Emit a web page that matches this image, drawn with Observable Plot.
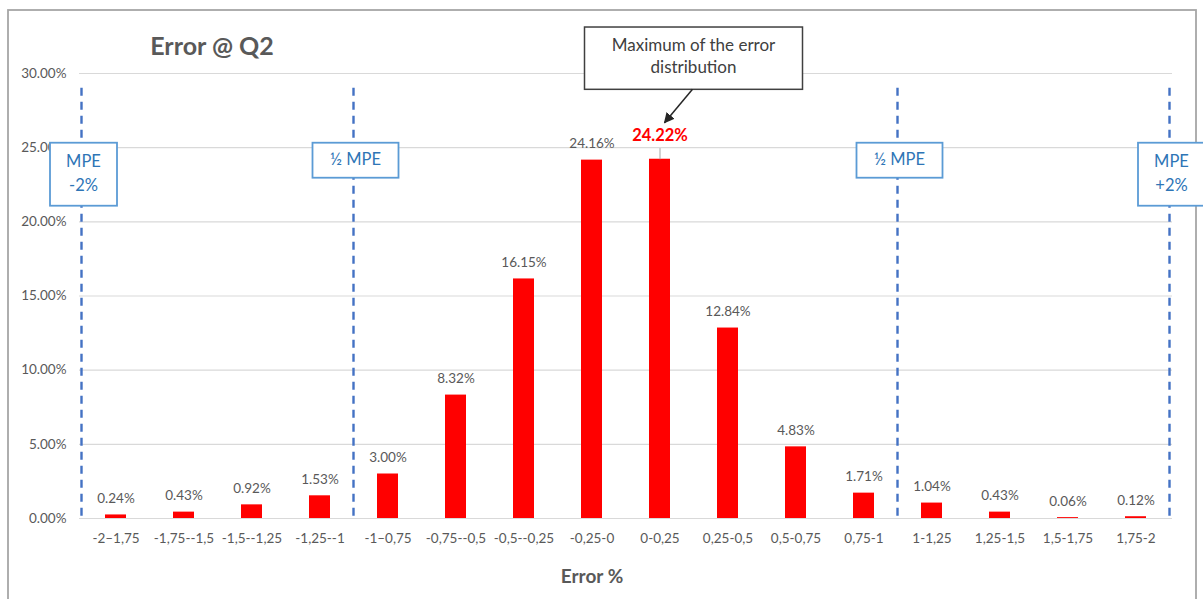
<!DOCTYPE html>
<html>
<head>
<meta charset="utf-8">
<script src="https://cdn.jsdelivr.net/npm/d3@7"></script>
<script src="https://cdn.jsdelivr.net/npm/@observablehq/plot@0.6"></script>
<style>
  html, body { margin: 0; padding: 0; background: #fff; }
  svg { display: block; }
</style>
</head>
<body>
<div id="chart"></div>
<script>
// ---- data ----
const categories = [
  "-2–1,75", "-1,75--1,5", "-1,5--1,25", "-1,25--1",
  "-1–0,75", "-0,75--0,5", "-0,5--0,25", "-0,25-0",
  "0-0,25", "0,25-0,5", "0,5-0,75", "0,75-1",
  "1-1,25", "1,25-1,5", "1,5-1,75", "1,75-2"
];
const values = [0.24, 0.43, 0.92, 1.53, 3.00, 8.32, 16.15, 24.16, 24.22, 12.84, 4.83, 1.71, 1.04, 0.43, 0.06, 0.12];
const yTicks = [0, 5, 10, 15, 20, 25, 30];
const binStart = -2;      // error % at the left edge of the first bin
const binWidth = 0.25;    // error % per bin
const mpeLimits = [-2, -1, 1, 2];
const mpeLabels = [["MPE", "-2%"], ["½ MPE"], ["½ MPE"], ["MPE", "+2%"]];
const peakCategory = "0-0,25";
const titleText = "Error @ Q2";
const xLabel = "Error %";
const calloutText = ["Maximum of the error", "distribution"];

const data = categories.map((c, i) => ({cat: c, value: values[i]}));
const peak = data.find(d => d.cat === peakCategory);
const fmt = v => v.toFixed(2) + "%";

const FONT = "Lato, 'Open Sans', sans-serif";
const GREY = "#595959";
const BLUE_LINE = "#4472C4";
const BLUE_BOX = "#5B9BD5";
const BLUE_TEXT = "#2E75B6";

const plot = Plot.plot({
  width: 1203,
  height: 599,
  marginLeft: 79,
  marginRight: 31,
  marginTop: 73,
  marginBottom: 81,
  style: {fontFamily: FONT, fontSize: "13.5px", color: GREY, background: "#fff"},
  x: {domain: categories, paddingInner: 0.685, paddingOuter: 0.3425, label: null, tickSize: 0, tickPadding: 15},
  y: {domain: [0, 30], ticks: yTicks, tickFormat: fmt, label: null, tickSize: 0, tickPadding: 13},
  marks: [
    Plot.ruleY(yTicks, {stroke: "#d9d9d9", strokeWidth: 1.2}),
    Plot.barY(data, {x: "cat", y: "value", fill: "#ff0000"}),
    Plot.text(data.filter(d => d.cat !== peakCategory), {
      x: "cat", y: "value", text: d => fmt(d.value), dy: -16, fill: GREY, fontSize: 13.5
    }),
    Plot.link([peak], {
      x1: "cat", x2: "cat", y1: d => d.value, y2: d => d.value + 0.75, stroke: "#a6a6a6", strokeWidth: 1
    }),
    Plot.text([peak], {
      x: "cat", y: "value", text: d => fmt(d.value), dy: -24, fill: "#ff0000", fontSize: 16.5, fontWeight: "bold"
    })
  ]
});

document.getElementById("chart").appendChild(plot);

// ---- annotations using the plot's scales ----
const xs = plot.scale("x");
const ys = plot.scale("y");
const step = xs.step;
const firstCenter = xs.apply(categories[0]) + xs.bandwidth / 2;
const xAtError = e => firstCenter - step / 2 + ((e - binStart) / binWidth) * step;
const yPx = v => ys.apply(v);

const svg = d3.select(plot);

// outer frame
svg.append("rect")
  .attr("x", 8).attr("y", 10).attr("width", 1188).attr("height", 620)
  .attr("fill", "none").attr("stroke", "#a6a6a6").attr("stroke-width", 1.8);

// title
svg.append("text")
  .attr("x", 212).attr("y", 49)
  .attr("text-anchor", "middle").attr("dominant-baseline", "middle")
  .attr("font-family", FONT).attr("font-size", 25).attr("font-weight", "bold")
  .attr("fill", GREY).text(titleText);

// x axis title
svg.append("text")
  .attr("x", 592).attr("y", 578)
  .attr("text-anchor", "middle").attr("dominant-baseline", "middle")
  .attr("font-family", FONT).attr("font-size", 19).attr("font-weight", "bold")
  .attr("fill", GREY).text(xLabel);

// MPE dashed lines and boxes
mpeLimits.forEach((e, i) => {
  const x = xAtError(e);
  svg.append("line")
    .attr("x1", x).attr("x2", x).attr("y1", yPx(29)).attr("y2", yPx(0))
    .attr("stroke", BLUE_LINE).attr("stroke-width", 2.4)
    .attr("stroke-dasharray", "8,6");
  const lines = mpeLabels[i];
  const bw = lines.length > 1 ? 67 : 86;
  const bh = lines.length > 1 ? 63 : 35;
  const top = yPx(25.3);
  svg.append("rect")
    .attr("x", x - bw / 2 + 2).attr("y", top).attr("width", bw).attr("height", bh)
    .attr("fill", "#fff").attr("stroke", BLUE_BOX).attr("stroke-width", 1.8);
  lines.forEach((t, k) => {
    svg.append("text")
      .attr("x", x + 2).attr("y", top + (lines.length > 1 ? 20 + k * 24 : bh / 2 + 1))
      .attr("text-anchor", "middle").attr("dominant-baseline", "middle")
      .attr("font-family", FONT).attr("font-size", 16.5)
      .attr("fill", BLUE_TEXT).text(t);
  });
});

// callout box "Maximum of the error distribution"
{
  const cx = xAtError(0.25);
  const top = yPx(33.1), bottom = yPx(28.9);
  const w = 218;
  svg.append("defs").append("marker")
    .attr("id", "arrow").attr("viewBox", "0 0 10 10").attr("refX", 9).attr("refY", 5)
    .attr("markerWidth", 7).attr("markerHeight", 7).attr("orient", "auto")
    .append("path").attr("d", "M0,0L10,5L0,10z").attr("fill", "#262626");
  svg.append("rect")
    .attr("x", cx - w / 2).attr("y", top).attr("width", w).attr("height", bottom - top)
    .attr("fill", "#fff").attr("stroke", "#404040").attr("stroke-width", 1.5);
  calloutText.forEach((t, k) => {
    svg.append("text")
      .attr("x", cx).attr("y", top + 20 + k * 22)
      .attr("text-anchor", "middle").attr("dominant-baseline", "middle")
      .attr("font-family", FONT).attr("font-size", 17)
      .attr("fill", "#404040").text(t);
  });
  const px = xs.apply(peak.cat) + xs.bandwidth / 2;
  svg.append("line")
    .attr("x1", cx - 1).attr("y1", bottom)
    .attr("x2", px + 5).attr("y2", yPx(peak.value) - 36)
    .attr("stroke", "#262626").attr("stroke-width", 1.5)
    .attr("marker-end", "url(#arrow)");
}
</script>
</body>
</html>
